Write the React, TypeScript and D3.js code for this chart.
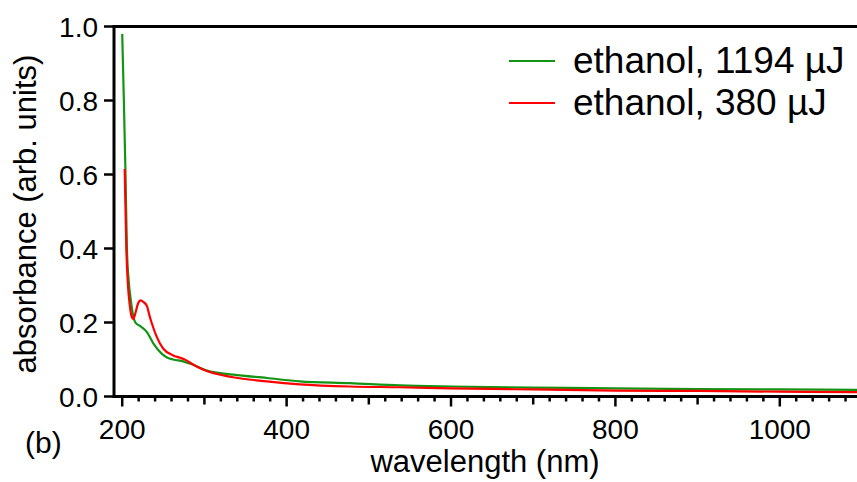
import React from "react";
import * as d3 from "d3";

const greenWl = [200, 202, 204, 205.7, 208, 210.5, 213.7, 216, 222, 230, 238, 248, 255, 262, 274, 285, 303, 335, 376, 416, 477, 538, 600, 700, 800, 900, 1000, 1100];
const greenAbs = [0.98, 0.8, 0.6, 0.4, 0.31, 0.26, 0.215, 0.2, 0.19, 0.174, 0.143, 0.116, 0.105, 0.1, 0.095, 0.087, 0.07, 0.059, 0.05, 0.041, 0.036, 0.03, 0.027, 0.024, 0.022, 0.02, 0.019, 0.018];

const redWl = [203, 205, 207, 209, 211, 213.5, 216, 219, 222.5, 226, 230, 233, 236, 242, 250, 262, 270, 277, 285, 299, 335, 376, 416, 477, 538, 600, 700, 800, 900, 1000, 1100];
const redAbs = [0.615, 0.4, 0.3, 0.25, 0.22, 0.21, 0.225, 0.25, 0.26, 0.255, 0.245, 0.22, 0.198, 0.161, 0.129, 0.111, 0.105, 0.099, 0.088, 0.072, 0.052, 0.041, 0.033, 0.027, 0.025, 0.022, 0.019, 0.016, 0.015, 0.013, 0.012];

const seriesNames = ["ethanol, 1194 \u00b5J", "ethanol, 380 \u00b5J"];
const seriesColors = ["#149414", "#ff0000"];

const xTickLabels = [200, 400, 600, 800, 1000];
const yTickLabels = [0.0, 0.2, 0.4, 0.6, 0.8, 1.0];

const W = 857;
const H = 482;

export default function App() {
  const x = d3.scaleLinear().domain([190, 1100]).range([114, 862]);
  const y = d3.scaleLinear().domain([0, 1]).range([396.5, 26.5]);
  const line = d3
    .line<[number, number]>()
    .x((d) => x(d[0]))
    .y((d) => y(d[1]))
    .curve(d3.curveMonotoneX);

  const series = [
    greenWl.map((w, i) => [w, greenAbs[i]] as [number, number]),
    redWl.map((w, i) => [w, redAbs[i]] as [number, number]),
  ];

  const minorTicks = d3.range(200, 1100, 20);
  const font = "'Liberation Sans', Arial, sans-serif";
  const x0 = x.range()[0];
  const y0 = y(0);

  return (
    <svg
      width={W}
      height={H}
      style={{ position: "absolute", left: 0, top: 0, background: "#fff" }}
      fontFamily={font}
    >
      <defs>
        <clipPath id="plot">
          <rect x={x0} y={y(1) - 10} width={W - x0} height={y0 - y(1) + 10} />
        </clipPath>
      </defs>
      <g clipPath="url(#plot)">
        {series.map((s, i) => (
          <path key={i} d={line(s) || ""} fill="none" stroke={seriesColors[i]} strokeWidth={2.2} />
        ))}
      </g>
      {minorTicks.map((t) => {
        const len = t % 200 === 0 ? 10 : t % 100 === 0 ? 8 : 5;
        return (
          <line key={t} x1={x(t)} x2={x(t)} y1={y0} y2={y0 + len} stroke="#000" strokeWidth={2.5} />
        );
      })}
      {xTickLabels.map((t) => (
        <text key={t} x={x(t)} y={439} textAnchor="middle" fontSize={28} fill="#000">
          {t}
        </text>
      ))}
      {yTickLabels.map((t) => (
        <g key={t}>
          <line x1={x0 - 10} x2={x0} y1={y(t)} y2={y(t)} stroke="#000" strokeWidth={2.5} />
          <text x={98} y={y(t)} dy="0.36em" textAnchor="end" fontSize={28} fill="#000">
            {t.toFixed(1)}
          </text>
        </g>
      ))}
      <line x1={x0} x2={W} y1={y0} y2={y0} stroke="#000" strokeWidth={3} />
      <line x1={x0} x2={W} y1={y(1)} y2={y(1)} stroke="#000" strokeWidth={3} />
      <line x1={x0} x2={x0} y1={y(1) - 1.5} y2={y0 + 1.5} stroke="#000" strokeWidth={3} />
      <text x={485} y={472} textAnchor="middle" fontSize={31} fill="#000">
        wavelength (nm)
      </text>
      <text
        transform={`translate(36, 214) rotate(-90)`}
        textAnchor="middle"
        fontSize={31}
        fill="#000"
      >
        absorbance (arb. units)
      </text>
      <text x={25} y={453} fontSize={30} fill="#000">
        (b)
      </text>
      {seriesNames.map((n, i) => (
        <g key={n}>
          <line x1={509} x2={555} y1={61 + i * 42} y2={61 + i * 42} stroke={seriesColors[i]} strokeWidth={2} />
          <text x={573} y={73 + i * 42} fontSize={37} fill="#000">
            {n}
          </text>
        </g>
      ))}
    </svg>
  );
}
